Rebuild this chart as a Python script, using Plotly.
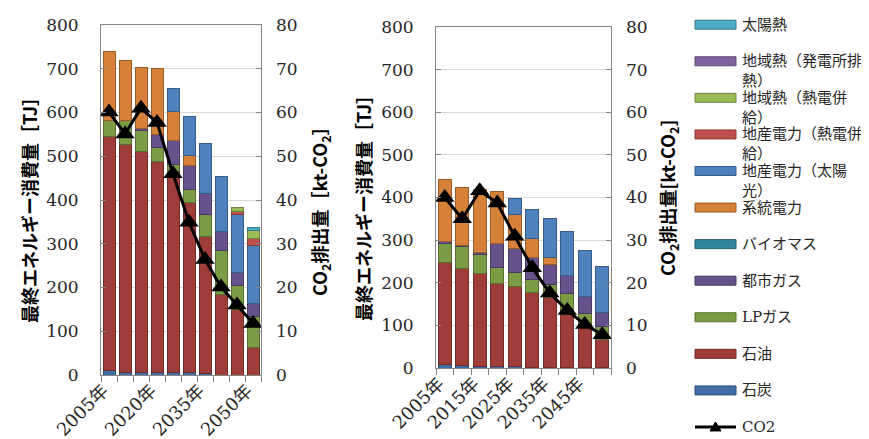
import plotly.graph_objects as go

# ---------------- data ----------------
years = [2005, 2010, 2015, 2020, 2025, 2030, 2035, 2040, 2045, 2050]

series_names = ["石炭", "石油", "LPガス", "都市ガス", "バイオマス", "系統電力",
                "地産電力（太陽光）", "地産電力（熱電併給）", "地域熱（熱電併給）",
                "地域熱（発電所排熱）", "太陽熱"]
series_colors = ["#3F6FA6", "#9E3D3A", "#7B9B45", "#67518A", "#31859C", "#D6813A",
                 "#4F81BD", "#C0504D", "#9BBB59", "#8064A2", "#4BACC6"]

# left chart [TJ]
left_coal = [10, 6, 6, 6, 5, 5, 4, 0, 0, 0]
left_oil = [535, 522, 505, 481, 461, 389, 313, 185, 150, 63]
left_lpg = [36, 53, 49, 33, 15, 30, 50, 100, 54, 70]
left_citygas = [0, 0, 3, 29, 55, 55, 49, 42, 30, 30]
left_biomass = [0, 0, 0, 0, 0, 0, 0, 0, 0, 0]
left_grid = [158, 138, 140, 151, 66, 22, 0, 0, 0, 0]
left_pv = [0, 0, 0, 0, 52, 90, 114, 127, 132, 134]
left_chp_power = [0, 0, 0, 0, 0, 0, 0, 0, 7, 16]
left_chp_heat = [0, 0, 0, 0, 0, 0, 0, 0, 9, 18]
left_waste_heat = [0, 0, 0, 0, 0, 0, 0, 0, 0, 0]
left_solar_heat = [0, 0, 0, 0, 0, 0, 0, 0, 0, 6]
left_co2 = [60.1, 55.1, 61.0, 57.7, 46.0, 34.9, 26.4, 20.1, 16.0, 11.8]

# right chart [TJ]
right_coal = [9, 6, 4, 4, 3, 2, 2, 2, 2, 2]
right_oil = [239, 227, 217, 195, 189, 174, 163, 123, 103, 66]
right_lpg = [45, 52, 46, 36, 31, 31, 30, 49, 24, 30]
right_citygas = [3, 2, 3, 58, 58, 53, 49, 43, 39, 33]
right_biomass = [0, 0, 0, 0, 0, 0, 0, 0, 0, 0]
right_grid = [146, 137, 148, 121, 79, 43, 16, 0, 0, 0]
right_pv = [0, 0, 0, 0, 37, 68, 90, 104, 107, 106]
right_chp_power = [0, 0, 0, 0, 0, 0, 0, 0, 0, 0]
right_chp_heat = [0, 0, 0, 0, 0, 0, 0, 0, 0, 0]
right_waste_heat = [0, 0, 0, 0, 0, 0, 0, 0, 0, 0]
right_solar_heat = [0, 0, 0, 0, 0, 0, 0, 0, 0, 0]
right_co2 = [40.0, 35.0, 41.6, 38.7, 30.9, 23.5, 17.6, 13.5, 10.2, 7.8]

left_ticks = [2005, 2020, 2035, 2050]
right_ticks = [2005, 2015, 2025, 2035, 2045]

left_series = [left_coal, left_oil, left_lpg, left_citygas, left_biomass, left_grid,
               left_pv, left_chp_power, left_chp_heat, left_waste_heat, left_solar_heat]
right_series = [right_coal, right_oil, right_lpg, right_citygas, right_biomass, right_grid,
                right_pv, right_chp_power, right_chp_heat, right_waste_heat, right_solar_heat]

legend_labels = {
    "地域熱（発電所排熱）": "地域熱（発電所排<br>熱）",
    "地域熱（熱電併給）": "地域熱（熱電併<br>給）",
    "地産電力（熱電併給）": "地産電力（熱電併<br>給）",
    "地産電力（太陽光）": "地産電力（太陽<br>光）",
}

# ---------------- helpers ----------------
W, H = 869, 439
SERIF = "DejaVu Serif, Noto Sans CJK JP"
CJK = "Noto Sans CJK JP"
TXT = "#262626"
AXC = "#868686"


def px(x):
    return x / W


def py(y):
    return 1 - y / H


def darker(hexc, f=0.72):
    h = hexc.lstrip("#")
    r, g, b = (int(h[i:i + 2], 16) for i in (0, 2, 4))
    return "#%02x%02x%02x" % (int(r * f), int(g * f), int(b * f))


fig = go.Figure()

for (vals_set, xa, ya, width) in [(left_series, "x", "y", 3.75), (right_series, "x2", "y2", 3.6)]:
    for name, col, vals in zip(series_names, series_colors, vals_set):
        fig.add_trace(go.Bar(
            x=years, y=[v if v else None for v in vals], name=name,
            marker=dict(color=col, line=dict(color=darker(col), width=1)),
            width=width, xaxis=xa, yaxis=ya, showlegend=False))

for co2, xa, ya in [(left_co2, "x", "y3"), (right_co2, "x2", "y4")]:
    fig.add_trace(go.Scatter(
        x=years, y=co2, name="CO2", mode="lines+markers",
        line=dict(color="black", width=3),
        marker=dict(symbol="triangle-up", size=17, color="black"),
        xaxis=xa, yaxis=ya, showlegend=False))

ytickfont = dict(family=SERIF, size=17, color=TXT)
xtickfont = dict(family=SERIF, size=18, color=TXT)


def xaxis_cfg(domain, ticks, anchor):
    return dict(domain=domain, range=[2002.5, 2052.5], anchor=anchor, automargin=False,
                tickmode="array", tickvals=ticks, ticktext=[f"{t}年" for t in ticks],
                tickangle=-45, ticks="", tickfont=xtickfont,
                ticklabelstandoff=-3, ticklabelshift=-6,
                showline=True, linecolor=AXC, linewidth=1, mirror=True,
                showgrid=False, zeroline=False,
                minor=dict(tickmode="linear", tick0=2002.5, dtick=5, ticks="outside",
                           ticklen=6, tickcolor=AXC, showgrid=False))


def yaxis_cfg(domain, anchor):
    return dict(domain=domain, range=[0, 800], dtick=100, anchor=anchor, automargin=False,
                showgrid=True, gridcolor="#D9D9D9", gridwidth=1,
                ticks="inside", ticklen=5, tickcolor=AXC, tickfont=ytickfont,
                ticklabelstandoff=18,
                showline=True, linecolor=AXC, linewidth=1, mirror=True, zeroline=False)


def y2_cfg(over, anchor):
    return dict(overlaying=over, anchor=anchor, side="right", range=[0, 80], dtick=10,
                automargin=False,
                showgrid=False, ticks="inside", ticklen=5, tickcolor=AXC,
                tickfont=ytickfont, ticklabelstandoff=14, zeroline=False, showline=False)


fig.update_layout(
    width=W, height=H, margin=dict(l=0, r=0, t=0, b=0, autoexpand=False),
    paper_bgcolor="white", plot_bgcolor="white",
    barmode="stack", showlegend=False,
    font=dict(family=SERIF, color=TXT),
    xaxis=xaxis_cfg([px(93), px(253)], left_ticks, "y"),
    yaxis=yaxis_cfg([py(367), py(17)], "x"),
    yaxis3=y2_cfg("y", "x"),
    xaxis2=xaxis_cfg([px(428), px(603)], right_ticks, "y2"),
    yaxis2=yaxis_cfg([py(360), py(19)], "x2"),
    yaxis4=y2_cfg("y2", "x2"),
)

# axis titles
titles = [
    (21, 198, "最終エネルギー消費量［TJ］"),
    (312, 199, "CO<sub>2</sub>排出量［kt-CO<sub>2</sub>］"),
    (355, 196, "最終エネルギー消費量［TJ］"),
    (660, 190, "CO<sub>2</sub>排出量[kt-CO<sub>2</sub>]"),
]
for x, y, t in titles:
    fig.add_annotation(x=px(x), y=py(y), xref="paper", yref="paper", text=f"<b>{t}</b>",
                       textangle=-90, showarrow=False, xanchor="center", yanchor="middle",
                       font=dict(family=CJK, size=18, color="black"))

# manual legend (reverse order, Excel style)
row0, step = 16.7, 36.57
entries = list(zip(series_names, series_colors))[::-1]
for i, (name, col) in enumerate(entries):
    yc = row0 + step * i
    fig.add_shape(type="rect", xref="paper", yref="paper",
                  x0=px(687), x1=px(728), y0=py(yc + 4.5), y1=py(yc - 4.5),
                  fillcolor=col, line=dict(color=darker(col), width=1))
    label = legend_labels.get(name, name)
    if "<br>" in label:
        fig.add_annotation(x=px(732), y=py(yc - 11), xref="paper", yref="paper", text=label,
                           showarrow=False, xanchor="left", yanchor="top", align="left",
                           font=dict(family=SERIF, size=15, color=TXT))
    else:
        fig.add_annotation(x=px(732), y=py(yc), xref="paper", yref="paper", text=label,
                           showarrow=False, xanchor="left", yanchor="middle",
                           font=dict(family=SERIF, size=15, color=TXT))

yc = row0 + step * len(entries)
fig.add_shape(type="line", xref="paper", yref="paper", x0=px(687), x1=px(728),
              y0=py(yc), y1=py(yc), line=dict(color="black", width=3))
fig.add_shape(type="path", xref="paper", yref="paper",
              path=f"M {px(702)} {py(yc + 4)} L {px(713)} {py(yc + 4)} L {px(707.5)} {py(yc - 5)} Z",
              fillcolor="black", line=dict(color="black", width=1))
fig.add_annotation(x=px(732), y=py(yc), xref="paper", yref="paper", text="CO2",
                   showarrow=False, xanchor="left", yanchor="middle",
                   font=dict(family=SERIF, size=15, color=TXT))

fig.write_html("out.html")
